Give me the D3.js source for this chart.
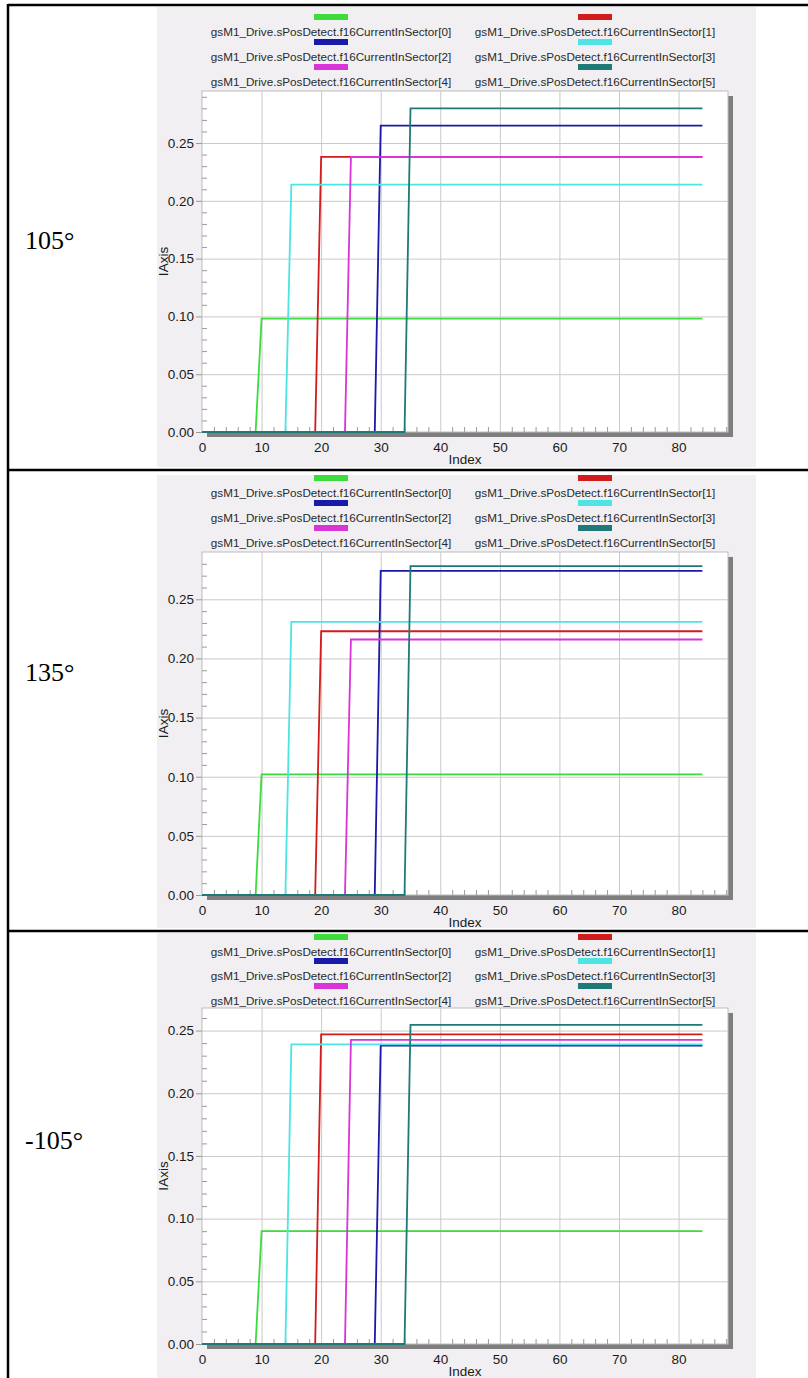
<!DOCTYPE html>
<html>
<head>
<meta charset="utf-8">
<script src="https://cdn.jsdelivr.net/npm/d3@7"></script>
<style>
body { margin: 0; background: #fff; }
svg { display: block; font-family: "Liberation Sans", Arial, sans-serif; }
</style>
</head>
<body>
<svg id="chart" width="808" height="1378"></svg>
<script>
// series names and colours (same legend in the three captures)
var sectors = [
  "gsM1_Drive.sPosDetect.f16CurrentInSector[0]",
  "gsM1_Drive.sPosDetect.f16CurrentInSector[1]",
  "gsM1_Drive.sPosDetect.f16CurrentInSector[2]",
  "gsM1_Drive.sPosDetect.f16CurrentInSector[3]",
  "gsM1_Drive.sPosDetect.f16CurrentInSector[4]",
  "gsM1_Drive.sPosDetect.f16CurrentInSector[5]"
];
var sectorColors = ["#3ddc3d", "#d21c1c", "#1a1aa8", "#4ce4e4", "#d834d8", "#1e7a76"];

// index after which each sector current steps up, and last sample index
var riseIndex = [9, 19, 29, 14, 24, 34];
var lastIndex = 84;

var angles = ["105°", "135°", "-105°"];
var level105 = [0.098, 0.238, 0.265, 0.214, 0.238, 0.280];
var level135 = [0.102, 0.223, 0.274, 0.231, 0.216, 0.278];
var levelMinus105 = [0.090, 0.247, 0.238, 0.239, 0.2425, 0.2545];
var levels = [level105, level135, levelMinus105];

// axes
var xTicks = [0, 10, 20, 30, 40, 50, 60, 70, 80];
var xMinor = [2, 4, 6, 8, 12, 14, 16, 18, 22, 24, 26, 28, 32, 34, 36, 38, 42, 44, 46, 48,
              52, 54, 56, 58, 62, 64, 66, 68, 72, 74, 76, 78, 82, 84, 86, 88];
var xMax = 88.3;
var yTicks = [0, 0.05, 0.10, 0.15, 0.20, 0.25];
var yMinor = [0.01, 0.02, 0.03, 0.04, 0.06, 0.07, 0.08, 0.09, 0.11, 0.12, 0.13, 0.14,
              0.16, 0.17, 0.18, 0.19, 0.21, 0.22, 0.23, 0.24, 0.26, 0.27, 0.28, 0.29];
var yMax = [0.295, 0.29, 0.268];

/*
 * layout of the three captures on the page
 */
var panels = [
  { bgTop: 7,   bgBottom: 467,  rows: [32, 57, 82],     plotTop: 91,   plotBottom: 432,  labelY: 240 },
  { bgTop: 475, bgBottom: 928,  rows: [493, 518, 543],  plotTop: 552,  plotBottom: 895,  labelY: 672 },
  { bgTop: 933, bgBottom: 1378, rows: [952, 976, 1001], plotTop: 1008, plotBottom: 1344, labelY: 1140 }
];
var rowLines = [470, 931];
var plotLeft = 202, plotRight = 728;
var legendCols = [331, 595];

var svg = d3.select("#chart");

function seriesPoints(i, lv) {
  return [[0, 0], [riseIndex[i], 0], [riseIndex[i] + 1, lv[i]], [lastIndex, lv[i]]];
}

function drawPanel(p, k) {
  var g = svg.append("g");
  var lv = levels[k];

  g.append("rect")
    .attr("x", 157).attr("y", p.bgTop)
    .attr("width", 599).attr("height", p.bgBottom - p.bgTop)
    .attr("fill", "#f1eff1");

  // legend
  var leg = g.append("g").selectAll("g")
    .data(sectors)
    .enter().append("g")
      .attr("transform", function(d, i) {
        return "translate(" + legendCols[i % 2] + "," + p.rows[Math.floor(i / 2)] + ")";
      });
  leg.append("rect")
    .attr("x", -17).attr("y", -18)
    .attr("width", 34).attr("height", 6)
    .attr("fill", function(d, i) { return sectorColors[i]; });
  leg.append("text")
    .attr("text-anchor", "middle")
    .attr("dy", "0.35em")
    .attr("font-size", 11.7)
    .attr("fill", "#2a2a2a")
    .text(function(d) { return d; });

  var x = d3.scaleLinear().domain([0, xMax]).range([plotLeft, plotRight]);
  var y = d3.scaleLinear().domain([0, yMax[k]]).range([p.plotBottom, p.plotTop]);
  var w = plotRight - plotLeft, h = p.plotBottom - p.plotTop;

  // drop shadow of the plot frame
  g.append("rect")
    .attr("x", plotRight).attr("y", p.plotTop + 5)
    .attr("width", 5).attr("height", h)
    .attr("fill", "#7e7e7e");
  g.append("rect")
    .attr("x", plotLeft + 5).attr("y", p.plotBottom)
    .attr("width", w).attr("height", 5)
    .attr("fill", "#7e7e7e");

  g.append("rect")
    .attr("x", plotLeft).attr("y", p.plotTop)
    .attr("width", w).attr("height", h)
    .attr("fill", "#fff")
    .attr("stroke", "#bdbdbd");

  // grid
  g.append("g")
      .attr("class", "grid")
      .attr("transform", "translate(" + plotLeft + ",0)")
    .call(d3.axisLeft(y).tickValues(yTicks.slice(1)).tickSize(-w).tickFormat(""));
  g.append("g")
      .attr("class", "grid")
      .attr("transform", "translate(0," + p.plotBottom + ")")
    .call(d3.axisBottom(x).tickValues(xTicks.slice(1)).tickSize(-h).tickFormat(""));
  g.selectAll(".grid .domain").remove();
  g.selectAll(".grid line").attr("stroke", "#c9c9c9");

  // minor ticks inside the frame
  g.append("g")
      .attr("class", "minor")
      .attr("transform", "translate(" + plotLeft + ",0)")
    .call(d3.axisLeft(y).tickValues(yMinor.filter(function(v) { return v < yMax[k]; }))
      .tickSize(-5).tickFormat(""));
  g.append("g")
      .attr("class", "minor")
      .attr("transform", "translate(0," + p.plotBottom + ")")
    .call(d3.axisBottom(x).tickValues(xMinor).tickSize(-5).tickFormat(""));
  g.selectAll(".minor .domain").remove();
  g.selectAll(".minor line").attr("stroke", "#9a9a9a");

  // labelled axes
  var ya = g.append("g")
      .attr("transform", "translate(" + plotLeft + ",0)")
    .call(d3.axisLeft(y).tickValues(yTicks).tickSize(6).tickPadding(2).tickFormat(d3.format(".2f")));
  var xa = g.append("g")
      .attr("transform", "translate(0," + p.plotBottom + ")")
    .call(d3.axisBottom(x).tickValues(xTicks).tickSize(0).tickPadding(10));
  [ya, xa].forEach(function(a) {
    a.select(".domain").remove();
    a.selectAll("line").attr("stroke", "#999");
    a.selectAll("text").attr("font-size", 13.5).attr("fill", "#1a1a1a")
      .attr("font-family", "Liberation Sans, Arial, sans-serif");
  });

  g.append("text")
    .attr("x", (plotLeft + plotRight) / 2)
    .attr("y", p.plotBottom + 32)
    .attr("text-anchor", "middle")
    .attr("font-size", 13.5)
    .attr("fill", "#1a1a1a")
    .text("Index");
  g.append("text")
    .attr("transform", "translate(168," + (p.plotTop + h / 2) + ") rotate(-90)")
    .attr("text-anchor", "middle")
    .attr("font-size", 13.5)
    .attr("fill", "#1a1a1a")
    .text("IAxis");

  // sector currents
  var line = d3.line()
    .x(function(d) { return x(d[0]); })
    .y(function(d) { return y(d[1]); });
  g.append("g").selectAll("path")
    .data(sectors)
    .enter().append("path")
      .attr("d", function(d, i) { return line(seriesPoints(i, lv)); })
      .attr("fill", "none")
      .attr("stroke", function(d, i) { return sectorColors[i]; })
      .attr("stroke-width", 1.8);

  // row label in the left column
  svg.append("text")
    .attr("x", 25)
    .attr("y", p.labelY)
    .attr("dy", "0.35em")
    .attr("font-family", "Liberation Serif, Times New Roman, serif")
    .attr("font-size", 26)
    .attr("fill", "#000")
    .text(angles[k]);
}

panels.forEach(drawPanel);

// table borders
svg.append("line").attr("x1", 8).attr("x2", 808).attr("y1", 5).attr("y2", 5)
  .attr("stroke", "#000").attr("stroke-width", 2.5);
svg.append("line").attr("x1", 8).attr("x2", 8).attr("y1", 4).attr("y2", 1378)
  .attr("stroke", "#000").attr("stroke-width", 2.5);
svg.selectAll(".rowline")
  .data(rowLines)
  .enter().append("line")
    .attr("class", "rowline")
    .attr("x1", 8).attr("x2", 808)
    .attr("y1", function(d) { return d; })
    .attr("y2", function(d) { return d; })
    .attr("stroke", "#000").attr("stroke-width", 2.5);
</script>
</body>
</html>
